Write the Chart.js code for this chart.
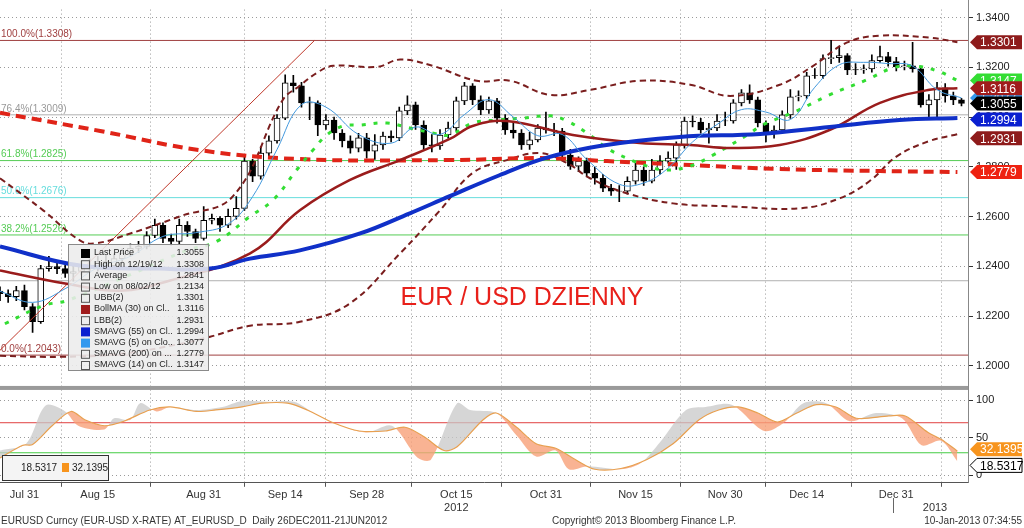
<!DOCTYPE html>
<html>
<head>
<meta charset="utf-8">
<script src="https://cdn.jsdelivr.net/npm/chart.js@4/dist/chart.umd.min.js"></script>
<style>
  html, body { margin: 0; padding: 0; background: #fff; }
  #wrap { width: 1024px; height: 528px; }
</style>
</head>
<body>
<div id="wrap"><canvas id="c" width="1024" height="528"></canvas></div>
<script>
// dzienne świece EUR/USD (indeks = kolejny dzień sesyjny, 27 lip 2012 .. 9 sty 2013)
const opens = [1.2300,1.2290,1.2278,1.2302,1.2238,1.2177,1.2391,1.2399,1.2391,1.2371,1.2379,1.2403,1.2391,1.2419,1.2403,1.2431,1.2452,1.2472,1.2480,1.2524,
  1.2565,1.2512,1.2500,1.2565,1.2540,1.2512,1.2585,1.2593,1.2565,1.2601,1.2633,1.2823,1.2762,1.2855,1.2904,1.2996,1.3138,1.3126,1.3057,1.3057,
  1.2968,1.2988,1.2936,1.2904,1.2875,1.2916,1.2863,1.2888,1.2924,1.2916,1.3025,1.3049,1.2968,1.2888,1.2884,1.2928,1.2956,1.3065,1.3126,1.3069,
  1.3029,1.3065,1.2996,1.2948,1.2936,1.2888,1.2908,1.2956,1.2948,1.2944,1.2847,1.2803,1.2823,1.2774,1.2754,1.2714,1.2702,1.2702,1.2742,1.2787,
  1.2742,1.2787,1.2823,1.2835,1.2888,1.2984,1.2980,1.2948,1.2956,1.2984,1.2984,1.3057,1.3097,1.3069,1.2976,1.2936,1.2948,1.3009,1.3081,1.3085,
  1.3166,1.3166,1.3235,1.3239,1.3247,1.3190,1.3190,1.3194,1.3227,1.3243,1.3223,1.3202,1.3206,1.3194,1.3049,1.3069,1.3118,1.3085,1.3069];
const closes = [1.2290,1.2278,1.2302,1.2238,1.2177,1.2391,1.2399,1.2391,1.2371,1.2379,1.2403,1.2391,1.2419,1.2403,1.2431,1.2452,1.2472,1.2480,1.2524,1.2565,
  1.2512,1.2500,1.2565,1.2540,1.2512,1.2585,1.2593,1.2565,1.2601,1.2633,1.2823,1.2762,1.2855,1.2904,1.2996,1.3138,1.3126,1.3057,1.3057,1.2968,
  1.2988,1.2936,1.2904,1.2875,1.2916,1.2863,1.2888,1.2924,1.2916,1.3025,1.3049,1.2968,1.2888,1.2884,1.2928,1.2956,1.3065,1.3126,1.3069,1.3029,
  1.3065,1.2996,1.2948,1.2936,1.2888,1.2908,1.2956,1.2948,1.2944,1.2847,1.2803,1.2823,1.2774,1.2754,1.2714,1.2702,1.2702,1.2742,1.2787,1.2742,
  1.2787,1.2823,1.2835,1.2888,1.2984,1.2980,1.2948,1.2956,1.2984,1.2984,1.3057,1.3097,1.3069,1.2976,1.2936,1.2948,1.3009,1.3081,1.3085,1.3166,
  1.3166,1.3235,1.3239,1.3247,1.3190,1.3190,1.3194,1.3227,1.3243,1.3223,1.3202,1.3206,1.3194,1.3049,1.3069,1.3118,1.3085,1.3069,1.3055];
const highs = [1.2318,1.2305,1.2320,1.2325,1.2250,1.2404,1.2440,1.2420,1.2405,1.2400,1.2420,1.2430,1.2440,1.2445,1.2450,1.2470,1.2490,1.2500,1.2540,1.2590,
  1.2575,1.2530,1.2590,1.2580,1.2550,1.2640,1.2610,1.2600,1.2630,1.2680,1.2840,1.2830,1.2880,1.2925,1.3010,1.3170,1.3168,1.3140,1.3080,1.3065,
  1.3010,1.3000,1.2950,1.2925,1.2935,1.2935,1.2930,1.2940,1.2945,1.3040,1.3085,1.3060,1.2985,1.2930,1.2950,1.2980,1.3080,1.3140,1.3135,1.3085,
  1.3080,1.3075,1.3010,1.2980,1.2950,1.2940,1.2970,1.3020,1.2975,1.2955,1.2870,1.2840,1.2835,1.2800,1.2770,1.2730,1.2725,1.2760,1.2815,1.2800,
  1.2830,1.2845,1.2860,1.2900,1.3000,1.3005,1.2995,1.2975,1.3010,1.3020,1.3070,1.3110,1.3130,1.3080,1.2985,1.2965,1.3025,1.3110,1.3105,1.3180,
  1.3195,1.3250,1.3308,1.3285,1.3255,1.3215,1.3210,1.3250,1.3285,1.3260,1.3240,1.3225,1.3300,1.3205,1.3090,1.3140,1.3135,1.3100,1.3075];
const lows = [1.2262,1.2255,1.2262,1.2225,1.2134,1.2170,1.2380,1.2370,1.2355,1.2340,1.2365,1.2375,1.2380,1.2385,1.2390,1.2415,1.2440,1.2455,1.2470,1.2515,
  1.2495,1.2485,1.2490,1.2520,1.2495,1.2505,1.2570,1.2540,1.2555,1.2590,1.2625,1.2740,1.2750,1.2840,1.2895,1.2990,1.3100,1.3040,1.2990,1.2925,
  1.2950,1.2910,1.2880,1.2855,1.2860,1.2835,1.2830,1.2870,1.2900,1.2905,1.3010,1.2950,1.2870,1.2860,1.2870,1.2915,1.2945,1.3050,1.3050,1.3010,
  1.3015,1.2975,1.2930,1.2915,1.2870,1.2870,1.2900,1.2935,1.2925,1.2830,1.2790,1.2780,1.2760,1.2730,1.2700,1.2685,1.2660,1.2690,1.2730,1.2725,
  1.2735,1.2770,1.2815,1.2790,1.2875,1.2960,1.2935,1.2895,1.2945,1.2965,1.2975,1.3045,1.3055,1.2960,1.2900,1.2915,1.2935,1.2995,1.3065,1.3075,
  1.3155,1.3155,1.3215,1.3220,1.3170,1.3170,1.3175,1.3180,1.3220,1.3205,1.3185,1.3190,1.3180,1.3040,1.2995,1.3000,1.3060,1.3050,1.3045];

// wskaźniki: [indeks dnia, wartość]
const sma55 = [[0,1.2480],[9.8,1.2403],[19.6,1.2391],[25.8,1.2391],[30.7,1.2431],[36.8,1.2464],[44.2,1.2532],[50.3,1.2613],[55.2,1.2682],
  [61.3,1.2766],[66.9,1.2835],[73.6,1.2884],[83.4,1.2920],[93.3,1.2932],[101.8,1.2960],[110.4,1.2988],[117.5,1.2996]];
const bollMA = [[0,1.2383],[8,1.2331],[14.7,1.2302],[20.9,1.2343],[30.7,1.2452],[36.8,1.2625],[42.9,1.2746],[49.1,1.2827],[55.2,1.2912],
  [58,1.2964],[62.2,1.2984],[70.3,1.2928],[78.5,1.2896],[84.7,1.2888],[89.6,1.2876],[95.7,1.2888],[101.8,1.2948],[108,1.3057],[114.1,1.3110],[117.5,1.3116]];
const ubb = [[0,1.2754],[5.3,1.2625],[9.8,1.2504],[11.7,1.2492],[16,1.2532],[22.1,1.2601],[28.6,1.2682],[34.7,1.3069],[36.8,1.3126],[38.9,1.3178],
  [40.9,1.3206],[46.3,1.3202],[49.1,1.3231],[53.1,1.3206],[58.5,1.3146],[62.6,1.3146],[67.5,1.3089],[72.4,1.3109],[78.5,1.3146],[84.7,1.3130],
  [89.6,1.3085],[95.7,1.3130],[99.8,1.3206],[103.9,1.3299],[108,1.3327],[114.1,1.3319],[117.5,1.3301]];
const lbb = [[0,1.2040],[7.4,1.2036],[14.7,1.2048],[22.1,1.2088],[25.8,1.2117],[30.7,1.2161],[36.8,1.2177],[42.9,1.2250],[49.1,1.2452],
  [54,1.2625],[58,1.2775],[62.2,1.2827],[66.3,1.2855],[69.6,1.2815],[72.4,1.2754],[76.9,1.2694],[82.6,1.2653],[89.6,1.2641],[98.2,1.2633],
  [103.1,1.2674],[106.7,1.2742],[110.1,1.2843],[114.1,1.2904],[117.5,1.2931]];
const sma200 = [[0,1.3017],[12.3,1.2944],[24.5,1.2867],[36.8,1.2831],[55.2,1.2827],[66.3,1.2835],[74.5,1.2823],[84.7,1.2807],[95.7,1.2791],[108,1.2783],[117.5,1.2779]];
const sma14 = [[0.6,1.2169],[5.3,1.2242],[8.2,1.2262],[16.3,1.2371],[22.9,1.2464],[26.6,1.2500],[30.7,1.2601],[33.5,1.2666],[36.4,1.2787],
  [38.4,1.2867],[40.1,1.2928],[42.1,1.2964],[44.2,1.2968],[47.5,1.2976],[50.3,1.2956],[53.1,1.2936],[55.2,1.2928],[58,1.2976],[61,1.2988],
  [64.2,1.2996],[67.5,1.3005],[69.6,1.2984],[72.4,1.2928],[74.5,1.2875],[76.9,1.2835],[79.4,1.2803],[81.8,1.2787],[84.7,1.2803],[87.5,1.2847],
  [91.7,1.2928],[93.6,1.2968],[97.8,1.3025],[101.8,1.3089],[106.4,1.3150],[109.6,1.3198],[112,1.3206],[115,1.3186],[117.5,1.3147]];
const sma5 = [[0,1.2300],[4,1.2255],[8,1.2310],[12,1.2395],[16,1.2440],[20,1.2520],[24,1.2535],[28,1.2570],[31,1.2680],[34,1.2870],[37,1.3050],
  [40,1.3040],[44,1.2930],[48,1.2895],[51,1.2960],[54,1.2930],[57,1.3010],[60,1.3070],[63,1.3000],[66,1.2925],[69,1.2930],[72,1.2830],[76,1.2730],
  [79,1.2735],[82,1.2795],[85,1.2900],[88,1.2970],[91,1.3030],[94,1.3020],[97,1.2990],[100,1.3120],[103,1.3210],[106,1.3220],[109,1.3215],
  [112,1.3205],[115,1.3110],[118,1.3077]];
const trendLine = [[-0.6,1.2043],[38.6,1.3308]];

// oscylator stochastyczny
const stochSlow = [[0,23],[2.8,40],[4,41],[6.4,66],[8.7,85],[10.4,74],[12.8,66],[15.2,72],[18.4,87],[20.9,91],[24.1,85],[26.5,87],[29.7,91],
  [32.1,96],[35.3,96],[37.7,87],[40.9,70],[44.1,59],[47.3,59],[49.7,64],[52.1,51],[54.5,33],[56.1,38],[59.3,74],[60.9,83],[63.4,64],[65.8,42],
  [68.2,36],[70.6,21],[73,8],[76.2,9],[79.4,21],[82.6,42],[85.8,74],[88.2,87],[90.6,91],[93,83],[95.4,71],[97.8,83],[100.2,94],[102.6,91],
  [105.1,76],[109.1,79],[111.1,79],[113.9,57],[115.5,48],[117.5,32.14]];
const stochFast = [[0,33],[3.2,42],[5.6,93],[8,85],[9.6,66],[12.8,61],[14,76],[16,74],[17.2,96],[19.2,85],[20.9,91],[24.1,87],[27.3,91],
  [29.7,99],[32.9,98],[36.1,98],[38.5,83],[40.9,70],[44.9,57],[48.1,66],[51.3,23],[52.9,21],[56.1,96],[57.7,87],[60.9,83],[63.4,53],[65.8,25],
  [68.2,33],[69.8,8],[72.2,12],[76.2,8],[78.6,16],[81,44],[84.2,87],[86.6,91],[89.8,94],[93.8,59],[96.2,70],[98.6,96],[101.4,96],[104.3,72],
  [107.5,83],[110.7,76],[113.1,40],[115.5,46],[117.5,18.53]];

// poziomy Fibonacciego
const fibLevels = [1.3308, 1.3009, 1.2825, 1.2676, 1.2526, 1.2342, 1.2043];
const fibLabels = ['100.0%(1.3308)', '76.4%(1.3009)', '61.8%(1.2825)', '50.0%(1.2676)', '38.2%(1.2526)', '', '0.0%(1.2043)'];
const fibColors = ['#a04040', '#b0b0b0', '#55cc55', '#66dddd', '#55cc55', '#b0b0b0', '#a04040'];

const tickIdx = [3, 12, 25, 35, 45, 56, 67, 78, 89, 99, 110];
const tickText = ['Jul 31', 'Aug 15', 'Aug 31', 'Sep 14', 'Sep 28', 'Oct 15', 'Oct 31', 'Nov 15', 'Nov 30', 'Dec 14', 'Dec 31'];

const legendRows = [
  ['Last Price', '1.3055', '#000'], ['High on 12/19/12', '1.3308', null], ['Average', '1.2841', null], ['Low on 08/02/12', '1.2134', null],
  ['UBB(2)', '1.3301', null], ['BollMA (30) on Cl..', '1.3116', '#a01c1c'], ['LBB(2)', '1.2931', null], ['SMAVG (55) on Cl..', '1.2994', '#0a1fd0'],
  ['SMAVG (5) on Clo..', '1.3077', '#3399ee'], ['SMAVG (200) on ...', '1.2779', null], ['SMAVG (14) on Cl..', '1.3147', null]
];

const pts = a => a.map(p => ({x: p[0], y: p[1]}));
const candleIdx = closes.map((c, i) => i);

const lineDs = (data, color, width, dash, order) => ({
  type: 'line', data: pts(data), borderColor: color, borderWidth: width, borderDash: dash || [],
  pointRadius: 0, tension: 0.4, yAxisID: 'y', order: order, fill: false
});

const FONT = '"Liberation Sans", Arial, sans-serif';

const overlay = {
  id: 'overlay',
  beforeDatasetsDraw(chart) {
    const {ctx, chartArea, scales} = chart;
    const y = scales.y;
    ctx.save();
    fibLevels.forEach((v, i) => {
      const py = y.getPixelForValue(v);
      ctx.strokeStyle = fibColors[i];
      ctx.lineWidth = 1;
      ctx.beginPath(); ctx.moveTo(chartArea.left, py); ctx.lineTo(chartArea.right, py); ctx.stroke();
      if (fibLabels[i]) {
        ctx.fillStyle = fibColors[i] === '#b0b0b0' ? '#999' : fibColors[i];
        ctx.font = '10px ' + FONT;
        ctx.textBaseline = 'bottom';
        ctx.fillText(fibLabels[i], 1, py - 1);
      }
    });
    // linie 70/30 oscylatora
    const y2 = scales.y2;
    [[70, '#e04040'], [30, '#44cc44']].forEach(([v, c]) => {
      const py = y2.getPixelForValue(v);
      ctx.strokeStyle = c; ctx.beginPath(); ctx.moveTo(chartArea.left, py); ctx.lineTo(chartArea.right, py); ctx.stroke();
    });
    ctx.restore();
  },
  afterDraw(chart) {
    const {ctx, chartArea, scales} = chart;
    const y = scales.y, y2 = scales.y2;
    ctx.save();
    // separator paneli
    ctx.fillStyle = '#9a9a9a';
    ctx.fillRect(0, y2.top - 3, chartArea.right, 4);
    ctx.strokeStyle = '#888'; ctx.lineWidth = 1;
    ctx.beginPath(); ctx.moveTo(chartArea.right + 0.5, 0); ctx.lineTo(chartArea.right + 0.5, y2.bottom); ctx.stroke();

    // tytuł
    ctx.fillStyle = '#e8201a';
    ctx.font = '25px ' + FONT;
    ctx.textAlign = 'center'; ctx.textBaseline = 'middle';
    ctx.fillText('EUR / USD DZIENNY', 522, 298);

    // etykiety wartości na osi
    const tag = (v, bg, fg, py, border) => {
      const x0 = chartArea.right + 2, h = 14;
      ctx.beginPath();
      ctx.moveTo(x0, py); ctx.lineTo(x0 + 7, py - h / 2); ctx.lineTo(1022, py - h / 2);
      ctx.lineTo(1022, py + h / 2); ctx.lineTo(x0 + 7, py + h / 2); ctx.closePath();
      ctx.fillStyle = bg; ctx.fill();
      if (border) { ctx.strokeStyle = border; ctx.stroke(); }
      ctx.fillStyle = fg; ctx.font = '12px ' + FONT; ctx.textAlign = 'left'; ctx.textBaseline = 'middle';
      ctx.fillText(String(v), x0 + 10, py + 1);
    };
    tag('1.3301', '#8e1b1b', '#fff', y.getPixelForValue(1.3301));
    tag('1.3147', '#33dd33', '#fff', y.getPixelForValue(1.3147));
    tag('1.3077', '#3399ee', '#fff', y.getPixelForValue(1.3077));
    tag('1.3116', '#a01c1c', '#fff', y.getPixelForValue(1.3116));
    tag('1.3055', '#000', '#fff', y.getPixelForValue(1.3055));
    tag('1.2994', '#0a1fd0', '#fff', y.getPixelForValue(1.2994) + 1);
    tag('1.2931', '#8e1b1b', '#fff', y.getPixelForValue(1.2931) + 4);
    tag('1.2779', '#ee2211', '#fff', y.getPixelForValue(1.2779));
    tag('32.1395', '#f7941d', '#fff', y2.getPixelForValue(32.14) - 2);
    tag('18.5317', '#fff', '#000', y2.getPixelForValue(18.53) + 4, '#000');

    // legenda główna
    const lx = 68, ly = 244;
    ctx.fillStyle = 'rgba(236,236,236,0.88)';
    ctx.fillRect(lx, ly, 140, 126);
    ctx.strokeStyle = '#8a8a8a'; ctx.strokeRect(lx + 0.5, ly + 0.5, 140, 126);
    ctx.font = '9px ' + FONT; ctx.textBaseline = 'middle';
    legendRows.forEach((r, i) => {
      const ry = ly + 9 + i * 11.2;
      if (r[2]) { ctx.fillStyle = r[2]; ctx.fillRect(lx + 13, ry - 4, 9, 9); }
      else { ctx.strokeStyle = '#555'; ctx.strokeRect(lx + 13.5, ry - 3.5, 8, 8); }
      ctx.fillStyle = '#222'; ctx.textAlign = 'left';
      ctx.fillText(r[0], lx + 26, ry);
      ctx.textAlign = 'right';
      ctx.fillText(r[1], lx + 136, ry);
    });
    // legenda oscylatora
    ctx.font = '10px ' + FONT;
    ctx.fillStyle = '#f4f4f4'; ctx.fillRect(2, 455, 106, 25);
    ctx.strokeStyle = '#333'; ctx.strokeRect(2.5, 455.5, 106, 25);
    ctx.fillStyle = '#222'; ctx.textAlign = 'left';
    ctx.fillText('18.5317', 21, 468);
    ctx.fillStyle = '#f7941d'; ctx.fillRect(62, 463, 7, 9);
    ctx.fillStyle = '#222'; ctx.fillText('32.1395', 72, 468);

    // lata i stopka
    ctx.font = '11px ' + FONT; ctx.textAlign = 'center'; ctx.fillStyle = '#333';
    ctx.fillText('2012', scales.x.getPixelForValue(56), 508);
    ctx.fillText('2013', 935, 508);
    ctx.strokeStyle = '#666';
    ctx.beginPath(); ctx.moveTo(893.5, 498); ctx.lineTo(893.5, 513); ctx.stroke();
    ctx.font = '10px ' + FONT; ctx.textAlign = 'left';
    ctx.fillText('EURUSD Curncy (EUR-USD X-RATE) AT_EURUSD_D  Daily 26DEC2011-21JUN2012', 1, 521);
    ctx.fillText('Copyright\u00a9 2013 Bloomberg Finance L.P.', 552, 521);
    ctx.textAlign = 'right';
    ctx.fillText('10-Jan-2013 07:34:55', 1022, 521);
    ctx.restore();
  }
};

new Chart(document.getElementById('c'), {
  data: {
    datasets: [
      { type: 'bar', data: candleIdx.map(i => ({x: i, y: [lows[i], highs[i]]})), backgroundColor: '#000',
        barThickness: 1, grouped: false, yAxisID: 'y', order: 20 },
      { type: 'bar', data: candleIdx.map(i => ({x: i, y: [opens[i], closes[i] === opens[i] ? closes[i] + 0.00005 : closes[i]]})),
        backgroundColor: candleIdx.map(i => closes[i] > opens[i] ? '#fff' : '#000'),
        borderColor: '#000', borderWidth: 1, borderSkipped: false,
        barThickness: 6, grouped: false, yAxisID: 'y', order: 19 },
      lineDs(trendLine, '#c0392b', 1, null, 10),
      lineDs(ubb, '#7a1e1e', 2, [6, 4], 9),
      lineDs(lbb, '#7a1e1e', 2, [6, 4], 9),
      lineDs(sma200, '#e02418', 4, [10, 6], 8),
      lineDs(sma14, '#33dd33', 3, [4, 8], 7),
      lineDs(bollMA, '#9a1c1c', 2.5, null, 6),
      lineDs(sma55, '#1030c8', 4, null, 5),
      lineDs(sma5, '#4499dd', 1, null, 4),
      { type: 'line', data: pts(stochFast), borderColor: 'rgba(0,0,0,0)', borderWidth: 0, pointRadius: 0, tension: 0.3,
        yAxisID: 'y2', order: 3, fill: { target: 11, above: 'rgba(200,200,200,0.75)', below: 'rgba(247,160,120,0.8)' } },
      { type: 'line', data: pts(stochSlow), borderColor: '#e8a050', borderWidth: 1.2, pointRadius: 0, tension: 0.3,
        yAxisID: 'y2', order: 2, fill: false }
    ]
  },
  options: {
    responsive: false,
    animation: false,
    events: [],
    layout: { padding: { top: 0, bottom: 24, left: 0, right: 0 } },
    plugins: { legend: { display: false }, tooltip: { enabled: false } },
    scales: {
      x: {
        type: 'linear', min: 0, max: 118.8, offset: false,
        afterBuildTicks: s => { s.ticks = tickIdx.map(v => ({value: v})); },
        ticks: { callback: v => tickText[tickIdx.indexOf(v)] || '', maxRotation: 0, autoSkip: false,
          color: '#333', font: { size: 11, family: FONT }, padding: 2 },
        grid: { color: '#9a9a9a', lineWidth: 1, drawTicks: true, tickLength: 4, tickColor: '#555' },
        border: { dash: [1, 3], color: '#555' }
      },
      y: {
        position: 'right', stack: 'p', stackWeight: 388, min: 1.1907, max: 1.3432,
        afterBuildTicks: s => { s.ticks = [1.20,1.22,1.24,1.26,1.28,1.30,1.32,1.34].map(v => ({value: v})); },
        afterFit: s => { s.width = 56; },
        ticks: { callback: v => v.toFixed(4), color: '#222', font: { size: 11, family: FONT }, padding: 3 },
        grid: { color: '#9a9a9a', tickLength: 5, tickColor: '#333' },
        border: { dash: [1, 3], display: false }
      },
      y2: {
        position: 'right', stack: 'p', stackWeight: 96, min: -10, max: 115, offset: false,
        afterBuildTicks: s => { s.ticks = [0, 50, 100].map(v => ({value: v})); },
        afterFit: s => { s.width = 56; },
        ticks: { color: '#222', font: { size: 11, family: FONT }, padding: 3 },
        grid: { color: '#9a9a9a', tickLength: 5, tickColor: '#333' },
        border: { dash: [1, 3], display: false }
      }
    }
  },
  plugins: [overlay]
});
</script>
</body>
</html>
